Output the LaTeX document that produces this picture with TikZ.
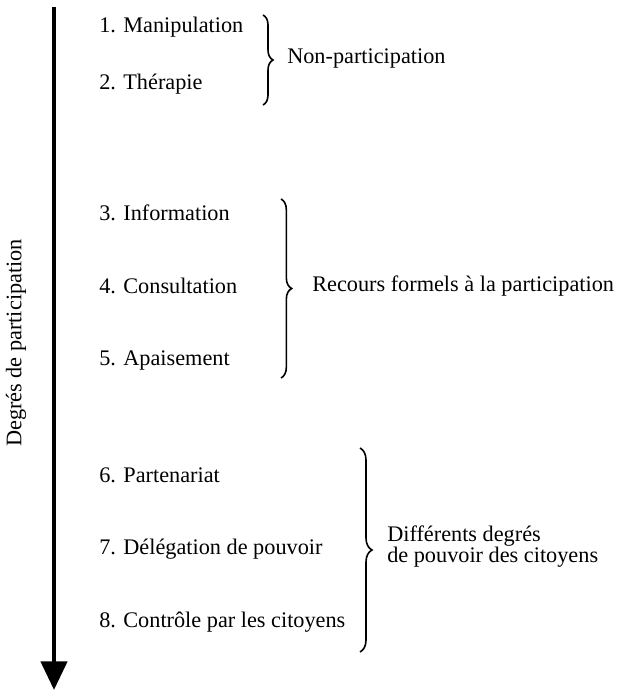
\documentclass[tikz,border=0pt]{standalone}
\usepackage{fontspec}
\setmainfont{Liberation Serif}
\usetikzlibrary{decorations.pathreplacing,arrows.meta}
\begin{document}
\begin{tikzpicture}[x=0.75pt,y=-0.75pt,
  txt/.style={inner sep=0pt,font=\fontsize{16.7}{20}\selectfont},
  item/.style={txt,anchor=base west},
  grp/.style={txt,anchor=west},
  br/.style={decorate,decoration={brace,amplitude=#1},line width=1.2pt}]
\useasboundingbox (0,0) rectangle (621,691);
\coordinate (top) at (54,7);
\coordinate (tip) at (54,690);
\draw[line width=3.4pt,-{Triangle[width=19.5pt,length=21.5pt]}] (top) -- (tip);
\node[txt,rotate=90] (axis) at (16,343) {Degrés de participation};
\node[item] (i1) at (99,33) {1. Manipulation};
\node[item] (i2) at (99,90) {2. Thérapie};
\node[item] (i3) at (99,221) {3. Information};
\node[item] (i4) at (99,293) {4. Consultation};
\node[item] (i5) at (99,365) {5. Apaisement};
\node[item] (i6) at (99,482) {6. Partenariat};
\node[item] (i7) at (99,554) {7. Délégation de pouvoir};
\node[item] (i8) at (99,627) {8. Contrôle par les citoyens};
\coordinate (b1s) at (263,15);  \coordinate (b1e) at (263,105);
\coordinate (b2s) at (281,199); \coordinate (b2e) at (281,378);
\coordinate (b3s) at (360,448); \coordinate (b3e) at (360,652);
\draw[br=7.5pt] (b1s) -- (b1e);
\draw[br=8pt] (b2s) -- (b2e);
\draw[br=9pt] (b3s) -- (b3e);
\node[grp] (g1) at (287,59) {Non-participation};
\node[grp] (g2) at (312,286) {Recours formels à la participation};
\node[item] (g3a) at (387,541) {Différents degrés};
\node[item] (g3b) at (387,562) {de pouvoir des citoyens};
\end{tikzpicture}
\end{document}
